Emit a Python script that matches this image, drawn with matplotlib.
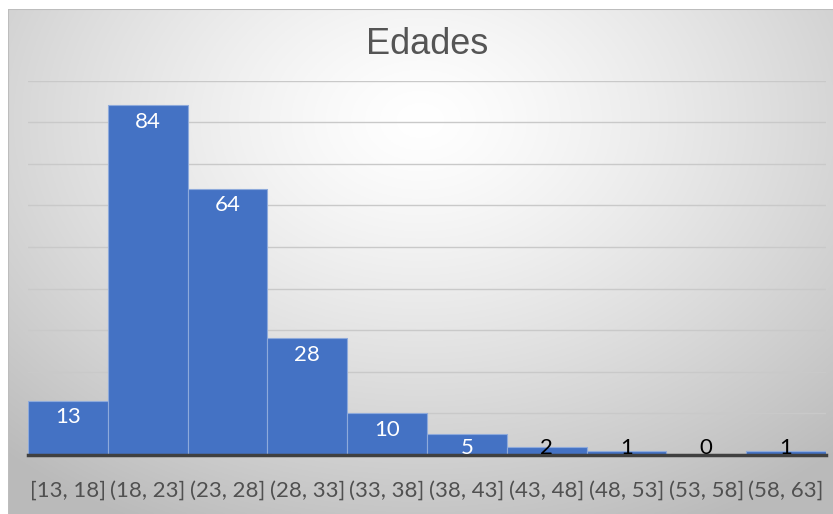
import numpy as np
import matplotlib
matplotlib.use("Agg")
import matplotlib.pyplot as plt

categories = ["[13, 18]", "(18, 23]", "(23, 28]", "(28, 33]", "(33, 38]",
              "(38, 43]", "(43, 48]", "(48, 53]", "(53, 58]", "(58, 63]"]
counts = [13, 84, 64, 28, 10, 5, 2, 1, 0, 1]
title = "Edades"

W, H = 833, 514
fig = plt.figure(figsize=(W / 100, H / 100), dpi=100)
fig.patch.set_facecolor("white")

# gradient background (chart area)
bg = fig.add_axes([8 / W, 0, 1 - 8 / W, 1 - 9 / H])
bg.set_axis_off()
yy, xx = np.mgrid[0:1:300j, 0:1:500j]
cx, cy = 0.5, 0.22
d = np.sqrt(((xx - cx) / 0.75) ** 2 + ((yy - cy) / 0.9) ** 2)
d = np.clip(d, 0, 1)
v = 1.0 - 0.27 * d ** 1.3
img = np.dstack([v, v, v])
bg.imshow(img, extent=[0, 1, 0, 1], origin="upper", aspect="auto")
bg.set_xlim(0, 1)
bg.set_ylim(0, 1)
bg.plot([0, 0], [0, 1], color="#bdbdbd", lw=1.5)
bg.plot([0, 1], [1, 1], color="#bdbdbd", lw=1.5)

ax = fig.add_axes([28 / W, 59 / H, (826 - 28) / W, (455 - 80.5) / H])
ax.set_facecolor("none")
x = np.arange(len(categories))
ax.bar(x, counts, width=1.0, color="#4472C4", edgecolor="#8eaadb", linewidth=0.8, zorder=3)
ax.set_xlim(-0.5, len(categories) - 0.5)
ax.set_ylim(0, 90)
ax.set_yticks(np.arange(10, 91, 10))
ax.yaxis.grid(True, color="#c9c9c9", linewidth=1.0, zorder=0)
ax.tick_params(axis="y", left=False, labelleft=False)
ax.tick_params(axis="x", bottom=False, labelsize=16, labelcolor="#505050", pad=15)
ax.set_xticks(x)
ax.set_xticklabels(categories, fontfamily="Lato")
for s in ["top", "right", "left"]:
    ax.spines[s].set_visible(False)
ax.spines["bottom"].set_color("#404040")
ax.spines["bottom"].set_linewidth(2.5)
ax.spines["bottom"].set_zorder(4)

for xi, c in zip(x, counts):
    ly = max(c - 3.9, 1.7)
    col = "white" if c >= 5 else "black"
    ax.text(xi, ly, str(c), ha="center", va="center", fontsize=16,
            color=col, fontfamily="Lato", zorder=5)

fig.text(427 / W, 1 - 45 / H, title, ha="center", va="center", fontsize=26,
         color="#555555", fontfamily="Liberation Sans")

fig.savefig("out.png", dpi=100)
